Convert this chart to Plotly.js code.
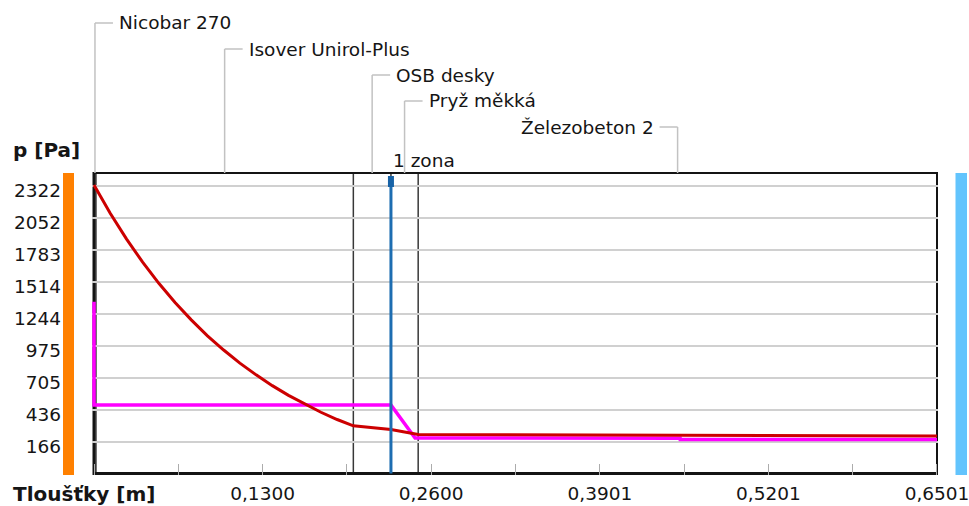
<!DOCTYPE html>
<html>
<head>
<meta charset="utf-8">
<script src="https://cdn.plot.ly/plotly-3.0.1.min.js"></script>
<style>
  html, body { margin: 0; padding: 0; background: #fff; }
  #chart { width: 969px; height: 506px; }
</style>
</head>
<body>
<div id="chart"></div>
<script>
// Wall build-up, from the inside (left) to the outside (right)
const layerNames = ['Nicobar 270', 'Isover Unirol-Plus', 'OSB desky', 'Pryž měkká', 'Železobeton 2'];
const layerThickness = [0.0015, 0.1985, 0.029, 0.021, 0.4001]; // m

// Condensation zone
const zoneLabels = ['1 zona'];
const zonePositions = [0.229]; // m

// Saturated water-vapour pressure through the wall [Pa]
const satX = [0, 0.0125, 0.025, 0.0375, 0.05, 0.0625, 0.075, 0.0875, 0.1, 0.1125,
              0.125, 0.1375, 0.15, 0.1625, 0.175, 0.1875, 0.2, 0.229, 0.25, 0.6501];
const satP = [2328, 2090, 1874, 1678, 1500, 1338, 1192, 1058, 938, 828,
              729, 638, 556, 482, 414, 353, 300, 269, 226, 214];

// Partial water-vapour pressure through the wall [Pa]
const parX = [0, 0, 0.229, 0.2476, 0.452, 0.4521, 0.6501];
const parP = [1345, 475, 475, 197, 196, 184, 184];

// Axis ticks
const yTickValues = [166, 436, 705, 975, 1244, 1514, 1783, 2052, 2322];
const xTickValues = [0.1300, 0.2600, 0.3901, 0.5201, 0.6501];
const xTickLabels = ['0,1300', '0,2600', '0,3901', '0,5201', '0,6501'];
const xMinorStep = 0.065;

// ---- page geometry (pixels) ----
const plotL = 92, plotR = 938, plotT = 172, plotB = 475;
const x0Px = 94, xEndPx = 937;           // where 0 m and the full thickness sit
const yLowPx = 441.7, yHighPx = 185.7;   // where the lowest / highest y tick sit
const px = v => (v - plotL) / (plotR - plotL);
const py = v => (plotB - v) / (plotB - plotT);

const boundaries = [0];
layerThickness.forEach(t => boundaries.push(+(boundaries[boundaries.length - 1] + t).toFixed(4)));
const total = boundaries[boundaries.length - 1];

const mPerPx = total / (xEndPx - x0Px);
const xRange = [-(x0Px - plotL) * mPerPx, total + (plotR - xEndPx) * mPerPx];
const yLow = yTickValues[0], yHigh = yTickValues[yTickValues.length - 1];
const paPerPx = (yHigh - yLow) / (yLowPx - yHighPx);
const yRange = [yLow - (plotB - yLowPx) * paPerPx, yHigh + (yHighPx - plotT) * paPerPx];

const FONT = 'DejaVu Sans';
const textColor = '#151515';
const frameTop = py(173), frameBottom = py(473.5);

const shapes = [];
const annotations = [];

// side bars: interior (warm) and exterior (cold)
shapes.push({type: 'rect', xref: 'paper', yref: 'paper', x0: px(63), x1: px(74), y0: py(475), y1: py(173),
             fillcolor: '#ff8000', line: {width: 0}});
shapes.push({type: 'rect', xref: 'paper', yref: 'paper', x0: px(955.5), x1: px(967), y0: py(475), y1: py(173),
             fillcolor: '#62c4fd', line: {width: 0}});

// layer boundaries
boundaries.slice(1, -1).forEach(b => shapes.push({
  type: 'line', layer: 'between', xref: 'x', yref: 'paper', x0: b, x1: b, y0: frameBottom, y1: frameTop,
  line: {color: '#383838', width: 1.5}
}));

// frame
const frameColor = '#141414';
shapes.push({type: 'line', layer: 'between', xref: 'x', yref: 'paper', x0: 0, x1: 0, y0: 0, y1: 1,
             line: {color: frameColor, width: 3}});
shapes.push({type: 'line', layer: 'between', xref: 'x', yref: 'paper', x0: total, x1: total, y0: 0, y1: 1,
             line: {color: frameColor, width: 2}});
shapes.push({type: 'line', layer: 'between', xref: 'x', yref: 'paper', x0: 0, x1: total, y0: frameTop, y1: frameTop,
             line: {color: frameColor, width: 2}});
shapes.push({type: 'line', layer: 'between', xref: 'x', yref: 'paper', x0: 0, x1: total, y0: frameBottom, y1: frameBottom,
             line: {color: frameColor, width: 3}});

// condensation zone marker
zonePositions.forEach((z, i) => {
  shapes.push({type: 'line', layer: 'above', xref: 'x', yref: 'paper', x0: z, x1: z, y0: frameBottom, y1: py(180),
               line: {color: '#1d6db1', width: 3}});
  shapes.push({type: 'rect', layer: 'above', xref: 'x', xsizemode: 'pixel', xanchor: z, x0: -3, x1: 3,
               yref: 'paper', y0: py(187), y1: py(176), fillcolor: '#1762a6', line: {width: 0}});
  annotations.push({text: zoneLabels[i], xref: 'x', x: z, xshift: 0, xanchor: 'left',
                    yref: 'paper', y: py(160), yanchor: 'middle', showarrow: false,
                    font: {family: FONT, size: 18.5, color: textColor}});
});

// layer names with leader lines
const leaderColor = '#c2c2c2';
layerNames.forEach((name, i) => {
  const mid = (boundaries[i] + boundaries[i + 1]) / 2;
  const yPx = 23 + 26 * i;
  const flip = i === layerNames.length - 1;
  shapes.push({type: 'line', layer: 'below', xref: 'x', yref: 'paper', x0: mid, x1: mid, y0: frameTop, y1: py(yPx),
               line: {color: leaderColor, width: 1.5}});
  shapes.push({type: 'line', layer: 'below', xref: 'x', xsizemode: 'pixel', xanchor: mid, x0: 0, x1: flip ? -18 : 18,
               yref: 'paper', y0: py(yPx), y1: py(yPx), line: {color: leaderColor, width: 1.5}});
  annotations.push({text: name, xref: 'x', x: mid, xshift: flip ? -22 : 22, xanchor: flip ? 'right' : 'left',
                    yref: 'paper', y: py(yPx), yanchor: 'middle', showarrow: false,
                    font: {family: FONT, size: 18.5, color: textColor}});
});

// axis captions
annotations.push({text: '<b>p [Pa]</b>', xref: 'paper', x: px(11), xanchor: 'left', yref: 'paper', y: py(150),
                  yanchor: 'middle', showarrow: false, font: {family: FONT, size: 20, color: textColor}});
annotations.push({text: '<b>Tloušťky [m]</b>', xref: 'paper', x: px(11), xanchor: 'left', yref: 'paper', y: py(494),
                  yanchor: 'middle', showarrow: false, font: {family: FONT, size: 20, color: textColor}});

const traces = [
  {x: parX, y: parP, type: 'scatter', mode: 'lines', name: 'p',
   line: {color: '#ff00ff', width: 3.5}, hoverinfo: 'skip'},
  {x: satX, y: satP, type: 'scatter', mode: 'lines', name: 'p sat',
   line: {color: '#cc0000', width: 3}, hoverinfo: 'skip'}
];

const layout = {
  width: 969, height: 506,
  margin: {l: plotL, r: 969 - plotR, t: plotT, b: 506 - plotB, pad: 0},
  paper_bgcolor: '#ffffff', plot_bgcolor: '#ffffff',
  showlegend: false,
  font: {family: FONT, size: 18.5, color: textColor},
  xaxis: {
    range: xRange, fixedrange: true, showgrid: false, zeroline: false, showline: false,
    tickmode: 'array', tickvals: xTickValues, ticktext: xTickLabels,
    ticks: 'inside', ticklen: 11, tickwidth: 1, tickcolor: '#acacac',
    minor: {tick0: 0, dtick: xMinorStep, ticks: 'inside', ticklen: 11, tickwidth: 1, tickcolor: '#acacac', showgrid: false},
    ticklabelstandoff: 5, ticklabeloverflow: 'allow', layer: 'below traces',
    tickfont: {family: FONT, size: 18.5, color: textColor}
  },
  yaxis: {
    range: yRange, fixedrange: true, zeroline: false, showline: false,
    tickmode: 'array', tickvals: yTickValues, ticktext: yTickValues.map(String),
    ticks: '', showgrid: true, gridcolor: '#d0d0d0', gridwidth: 2,
    ticklabelstandoff: 30, ticklabelshift: 5, layer: 'below traces',
    tickfont: {family: FONT, size: 18.5, color: textColor}
  },
  shapes: shapes,
  annotations: annotations
};

Plotly.newPlot('chart', traces, layout, {staticPlot: true, displayModeBar: false});
</script>
</body>
</html>
